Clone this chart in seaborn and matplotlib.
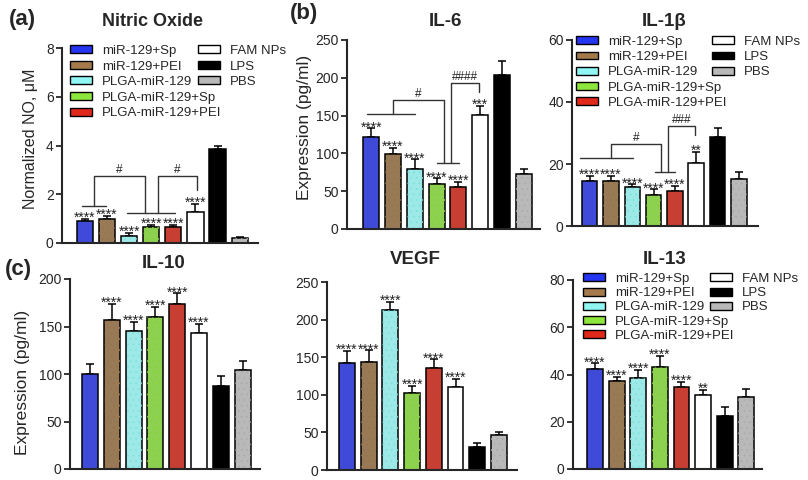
import matplotlib
matplotlib.use("Agg")
import numpy as np
import pandas as pd
import seaborn as sns
import matplotlib.pyplot as plt
from matplotlib.patches import Patch, Rectangle

# groups and colours
groups = ["miR-129+Sp", "miR-129+PEI", "PLGA-miR-129", "PLGA-miR-129+Sp",
          "PLGA-miR-129+PEI", "FAM NPs", "LPS", "PBS"]
colors = ["#2536f2", "#a47a4c", "#8ff6f4", "#8de63c", "#e0291a",
          "#ffffff", "#000000", "#b9b9b9"]
# faint speckle drawn over some bars (None = plain)
dot_colors = [None, "#9a7246", "#7be0dd", "#80d637", None, None, None, "#a9a9a9"]

# values (mean, upper error)
no_mean = [0.90, 0.97, 0.29, 0.66, 0.66, 1.26, 3.85, 0.21]
no_err = [0.10, 0.13, 0.12, 0.09, 0.09, 0.36, 0.14, 0.04]
il6_mean = [122, 99, 79, 59, 56, 151, 204, 73]
il6_err = [11, 8.5, 13, 8, 6, 12, 18, 7]
il1b_mean = [14.6, 14.6, 12.7, 10.0, 11.4, 20.2, 28.8, 15.2]
il1b_err = [1.5, 1.6, 0.7, 1.8, 1.6, 3.6, 2.9, 2.3]
il10_mean = [100, 157, 145, 160, 174, 143, 87, 104]
il10_err = [11, 17, 10, 11, 11, 10, 11, 10]
vegf_mean = [142, 143, 213, 103, 135, 110, 30, 46]
vegf_err = [16, 16, 11, 8.5, 12, 11, 6, 5]
il13_mean = [42.2, 37.2, 38.4, 43.3, 34.6, 31.3, 22.4, 30.5]
il13_err = [2.5, 1.8, 3.5, 4.5, 2.4, 2.1, 3.7, 3.3]

no_stars = ["****"] * 6 + ["", ""]
il6_stars = ["****"] * 5 + ["***", "", ""]
il1b_stars = ["****"] * 5 + ["**", "", ""]
il10_stars = [""] + ["****"] * 5 + ["", ""]
vegf_stars = ["****"] * 6 + ["", ""]
il13_stars = ["****"] * 5 + ["**", "", ""]

W, H = 808, 480

sns.set_style("ticks")
plt.rcParams["font.family"] = ["Liberation Sans", "DejaVu Sans"]
plt.rcParams["hatch.linewidth"] = 0.4

fig = plt.figure(figsize=(W / 100, H / 100), dpi=100)


def make_ax(left, right, top, bottom):
    return fig.add_axes([left / W, 1 - bottom / H, (right - left) / W, (bottom - top) / H])


def draw_panel(ax, mean, err, stars, yticks, xlim):
    df = pd.DataFrame({"group": groups, "value": mean})
    sns.barplot(data=df, x="group", y="value", hue="group", palette=colors,
                order=groups, hue_order=groups, legend=False, width=0.73,
                edgecolor="black", linewidth=1.1, ax=ax, zorder=2)
    # speckle texture on top of the seaborn bars
    for bar, dc in zip(list(ax.patches), dot_colors):
        if dc:
            ax.add_patch(Rectangle((bar.get_x(), bar.get_y()), bar.get_width(), bar.get_height(),
                                   facecolor="none", edgecolor=dc, linewidth=0,
                                   hatch="...", zorder=2.5))
    xs = np.arange(len(groups))
    ax.errorbar(xs, mean, yerr=[np.zeros(len(mean)), err], fmt="none",
                ecolor="black", elinewidth=1.1, capsize=2.8, capthick=1.1, zorder=1)
    for x, m, e, s in zip(xs, mean, err, stars):
        if s:
            ax.annotate(s, (x, m + e), xytext=(0, -2.2), textcoords="offset points",
                        ha="center", va="baseline", fontsize=10, color="#222222")
    ax.set_xlim(*xlim)
    ax.set_ylim(yticks[0], yticks[-1])
    ax.set_yticks(yticks)
    ax.set_xticks([])
    ax.set_xlabel("")
    ax.set_ylabel("")
    sns.despine(ax=ax)
    for sp in ("left", "bottom"):
        ax.spines[sp].set_linewidth(1.5)
    ax.tick_params(axis="y", direction="out", length=4, width=1.3, labelsize=10, pad=2)


def draw_sig(ax, lines, brackets):
    c = "#333333"
    for x1, x2, y in lines:
        ax.plot([x1, x2], [y, y], color=c, lw=1, clip_on=False)
    for xl, xr, ytop, yl, yr, lab in brackets:
        ax.plot([xl, xl, xr, xr], [yl, ytop, ytop, yr], color=c, lw=1, clip_on=False)
        ax.text((xl + xr) / 2, ytop, lab, ha="center", va="bottom", fontsize=8.5, color="#222222")


def add_legend(ax, x1, x2, ytop, spacing):
    handles = [Patch(facecolor=c, edgecolor="black", linewidth=1.0) for c in colors]
    kw = dict(frameon=False, fontsize=9.5, handlelength=1.67, handleheight=0.55,
              handletextpad=0.75, labelspacing=spacing, borderpad=0, borderaxespad=0,
              loc="upper left", bbox_transform=fig.transFigure)
    leg1 = ax.legend(handles[:5], groups[:5], bbox_to_anchor=(x1 / W, 1 - ytop / H), **kw)
    ax.add_artist(leg1)
    ax.legend(handles[5:], groups[5:], bbox_to_anchor=(x2 / W, 1 - ytop / H), **kw)


# (a) Nitric oxide
ax_a = make_ax(62, 258, 48, 243)
draw_panel(ax_a, no_mean, no_err, no_stars, [0, 2, 4, 6, 8], (-1.04, 7.83))
draw_sig(ax_a, [(-0.12, 0.93, 1.53), (1.91, 4.07, 1.24)],
         [(0.41, 2.71, 2.75, 1.53, 1.24, "#"), (3.32, 5.05, 2.75, 1.24, 2.17, "#")])
add_legend(ax_a, 70, 198, 45, 0.27)

# (b) IL-6
ax_b = make_ax(347, 540, 40, 229)
draw_panel(ax_b, il6_mean, il6_err, il6_stars, [0, 50, 100, 150, 200, 250], (-1.11, 7.74))
draw_sig(ax_b, [(-0.17, 2.0, 151.7), (3.0, 4.02, 86.9)],
         [(0.98, 3.34, 170.6, 151.7, 86.9, "#"), (3.66, 4.94, 192.7, 86.9, 181.6, "####")])

# IL-1b
ax_c = make_ax(572, 758, 40, 226)
draw_panel(ax_c, il1b_mean, il1b_err, il1b_stars, [0, 20, 40, 60], (-0.83, 7.9))
draw_sig(ax_c, [(-0.45, 2.02, 21.8), (3.07, 4.0, 17.3)],
         [(0.98, 3.35, 26.4, 21.8, 17.3, "#"), (3.69, 4.94, 32.3, 17.3, 29.4, "###")])
add_legend(ax_c, 576, 712, 36, 0.24)

# (c) IL-10
ax_d = make_ax(70, 260, 279, 469)
draw_panel(ax_d, il10_mean, il10_err, il10_stars, [0, 50, 100, 150, 200], (-0.92, 7.8))

# VEGF
ax_e = make_ax(327, 517, 282, 470)
draw_panel(ax_e, vegf_mean, vegf_err, vegf_stars, [0, 50, 100, 150, 200, 250], (-0.92, 7.83))

# IL-13
ax_f = make_ax(573, 762, 280, 469)
draw_panel(ax_f, il13_mean, il13_err, il13_stars, [0, 20, 40, 60, 80], (-1.02, 7.73))
add_legend(ax_f, 583, 710, 273, 0.17)

# titles, panel letters, axis labels
def ftext(x, y, s, **kw):
    fig.text(x / W, 1 - y / H, s, ha="center", va="center", **kw)


ftext(152, 21, "Nitric Oxide", fontsize=13, fontweight="bold")
ftext(445, 21, "IL-6", fontsize=13.5, fontweight="bold")
ftext(664, 21, "IL-1\u03b2", fontsize=13.5, fontweight="bold")
ftext(164, 264, "IL-10", fontsize=13.5, fontweight="bold")
ftext(415, 260, "VEGF", fontsize=13.5, fontweight="bold")
ftext(665, 260, "IL-13", fontsize=13.5, fontweight="bold")

ftext(22, 19, "(a)", fontsize=16, fontweight="bold")
ftext(304, 14, "(b)", fontsize=16, fontweight="bold")
ftext(18, 269, "(c)", fontsize=16, fontweight="bold")

ftext(31, 139, "Normalized NO, \u03bcM", fontsize=11.5, rotation=90)
ftext(305, 127, "Expression (pg/ml)", fontsize=12.5, rotation=90)
ftext(23, 382, "Expression (pg/ml)", fontsize=12.5, rotation=90)

fig.savefig("out.png", dpi=100)
